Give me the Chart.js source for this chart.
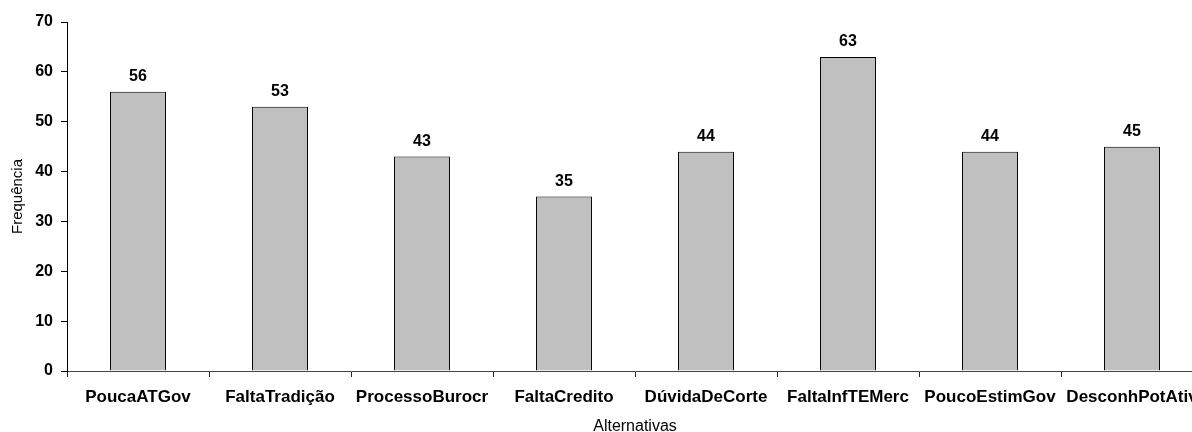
<!DOCTYPE html>
<html>
<head>
<meta charset="utf-8">
<script src="https://cdn.jsdelivr.net/npm/chart.js@4"></script>
<style>
  html, body { margin: 0; padding: 0; background: #fff; overflow: hidden; }
  #wrap { width: 1210px; height: 432px; }
</style>
</head>
<body>
<div id="wrap"><canvas id="freqChart"></canvas></div>
<script>
// Frequência por alternativa
const alternativas = ['PoucaATGov', 'FaltaTradição', 'ProcessoBurocr', 'FaltaCredito',
  'DúvidaDeCorte', 'FaltaInfTEMerc', 'PoucoEstimGov', 'DesconhPotAtiv'];
const frequencias = [56, 53, 43, 35, 44, 63, 44, 45];
const yTicks = [0, 10, 20, 30, 40, 50, 60, 70];

const FONT = 'Arial, "Liberation Sans", sans-serif';

// value labels above each bar
const barLabels = {
  id: 'barLabels',
  afterDatasetsDraw(chart) {
    const ctx = chart.ctx;
    const meta = chart.getDatasetMeta(0);
    ctx.save();
    ctx.font = 'bold 16px ' + FONT;
    ctx.fillStyle = '#000';
    ctx.textAlign = 'center';
    ctx.textBaseline = 'bottom';
    meta.data.forEach(function(bar, i) {
      ctx.fillText(String(frequencias[i]), bar.x, bar.y - 7);
    });
    ctx.restore();
  }
};

new Chart(document.getElementById('freqChart'), {
  type: 'bar',
  data: {
    labels: alternativas,
    datasets: [{
      data: frequencias,
      backgroundColor: '#c0c0c0',
      borderColor: '#000',
      borderWidth: 1,
      barPercentage: 0.394,
      categoryPercentage: 1.0
    }]
  },
  options: {
    responsive: true,
    maintainAspectRatio: false,
    animation: false,
    layout: { padding: { top: 22, right: 7, left: 0, bottom: 0 } },
    plugins: {
      legend: { display: false },
      tooltip: { enabled: false }
    },
    scales: {
      x: {
        offset: true,
        grid: {
          offset: true,
          drawOnChartArea: false,
          drawTicks: true,
          tickLength: 6,
          color: '#222'
        },
        border: { color: '#444', width: 1 },
        ticks: {
          color: '#000',
          padding: 10,
          maxRotation: 0,
          autoSkip: false,
          font: { family: FONT, size: 17, weight: 'bold' }
        },
        title: {
          display: true,
          text: 'Alternativas',
          color: '#000',
          padding: { top: 0, bottom: -3 },
          font: { family: FONT, size: 16, lineHeight: 1 }
        },
        afterFit(scale) { scale.height = 61; }
      },
      y: {
        min: 0,
        max: 70,
        afterBuildTicks(scale) { scale.ticks = yTicks.map(v => ({ value: v })); },
        grid: {
          drawOnChartArea: false,
          drawTicks: true,
          tickLength: 6,
          color: '#000'
        },
        border: { color: '#000', width: 1 },
        ticks: {
          color: '#000',
          padding: 8,
          font: { family: FONT, size: 16, weight: 'bold' }
        },
        title: {
          display: true,
          text: 'Frequência',
          color: '#000',
          padding: { top: 10, bottom: 0 },
          font: { family: FONT, size: 15, lineHeight: 1 }
        },
        afterFit(scale) { scale.width = 67; }
      }
    }
  },
  plugins: [barLabels]
});
</script>
</body>
</html>
